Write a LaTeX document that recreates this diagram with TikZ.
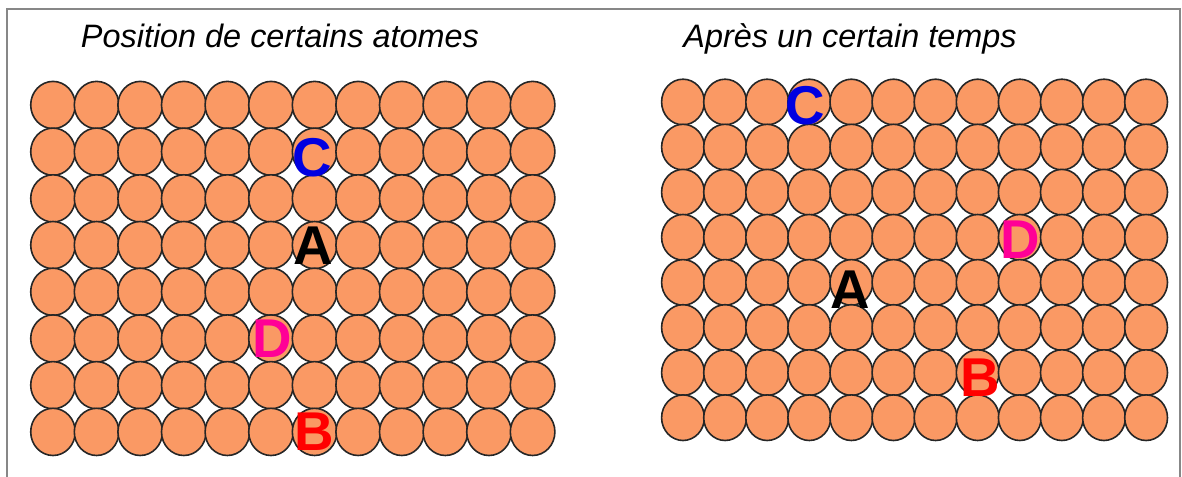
\documentclass[tikz,border=0pt]{standalone}
\usepackage{fontspec}
\setmainfont{Liberation Sans}
\usetikzlibrary{positioning}

\definecolor{atomfill}{RGB}{250,153,100}
\definecolor{frameline}{RGB}{135,135,135}
\definecolor{labC}{RGB}{0,0,225}
\definecolor{labD}{RGB}{255,0,150}
\definecolor{labB}{RGB}{255,0,0}

\tikzset{
	atom/.style={fill=atomfill,draw=black!85,line width=1.2pt},
	titre/.style={font=\fontsize{24.3}{27}\selectfont\itshape,inner sep=0},
	lettre/.style={font=\fontsize{41}{45}\selectfont\bfseries,inner sep=0}
}

\begin{document}
\begin{tikzpicture}[x=0.75pt,y=-0.75pt]
		\useasboundingbox (0,0) rectangle (1182,477);
		\draw[frameline,line width=2pt] (7,477) -- (7,9) -- (1180,9) -- (1180,477);
		% titres
		\node[titre] (titre1) at (280,36) {Position de certains atomes};
		\node[titre] (titre2) at (850,39) {Après un certain temps};
		% grille de gauche
		\foreach \i in {0,...,11}
			\foreach \j in {0,...,7}
				\draw[atom] ({53+43.6*\i},{105+46.7*\j}) ellipse [x radius=22.3,y radius=23.6];
		% grille de droite
		\foreach \i in {0,...,11}
			\foreach \j in {0,...,7}
				\draw[atom] ({683+42.1*\i},{102+45.1*\j}) ellipse [x radius=21.4,y radius=22.8];
		% atomes reperes
		\node[lettre,labC] (c1) at (312,158) {C};
		\node[lettre] (a1) at (313,246) {A};
		\node[lettre,labD] (d1) at (272,339) {D};
		\node[lettre,labB] (b1) at (314,432) {B};
		\node[lettre,labC] (c2) at (805,106) {C};
		\node[lettre,labD] (d2) at (1020,240) {D};
		\node[lettre] (a2) at (850,290) {A};
		\node[lettre,labB] (b2) at (980,378) {B};
	\end{tikzpicture}
\end{document}
